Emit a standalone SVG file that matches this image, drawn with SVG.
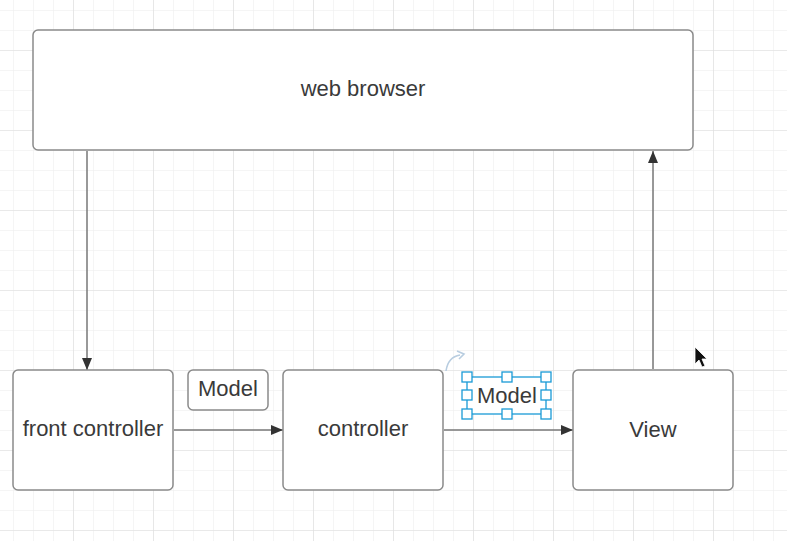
<svg xmlns="http://www.w3.org/2000/svg" width="787" height="541" viewBox="0 0 787 541">
<defs>
<pattern id="minor" x="13" y="10" width="20" height="20" patternUnits="userSpaceOnUse">
<path d="M0 0H20M0 0V20" fill="none" stroke="#ebebeb" stroke-width="1"/>
</pattern>
<pattern id="major" x="73" y="50" width="80" height="80" patternUnits="userSpaceOnUse">
<path d="M0 0H80M0 0V80" fill="none" stroke="#dedede" stroke-width="1.2"/>
</pattern>
<marker id="arr" viewBox="0 0 12 10" refX="12" refY="5" markerWidth="12" markerHeight="10" markerUnits="userSpaceOnUse" orient="auto">
<path d="M0 0L12 5L0 10Z" fill="#333"/>
</marker>
<style>
.box{fill:#fff;stroke:#8a8a8a;stroke-width:1.5}
.lbl{font-family:"Liberation Sans",Arial,sans-serif;font-size:22px;fill:#3a3a3a;text-anchor:middle;dominant-baseline:central}
.con{fill:none;stroke:#777;stroke-width:1.5;marker-end:url(#arr)}
.h{fill:#fff;stroke:#1a9ad6;stroke-width:1.3}
</style>
</defs>
<rect width="787" height="541" fill="#fff"/>
<rect width="787" height="541" fill="url(#minor)"/>
<rect width="787" height="541" fill="url(#major)"/>
<g id="connectors">
<path class="con" d="M87 151V370"/>
<path class="con" d="M174 430H283"/>
<path class="con" d="M444 430H573"/>
<path class="con" d="M653 369V151"/>
</g>
<g id="web-browser">
<rect class="box" x="33" y="30" width="660" height="120" rx="5"/>
<text class="lbl" x="363" y="88">web browser</text>
</g>
<g id="front-controller">
<rect class="box" x="13" y="370" width="160" height="120" rx="5"/>
<text class="lbl" x="93" y="428">front controller</text>
</g>
<g id="controller">
<rect class="box" x="283" y="370" width="160" height="120" rx="5"/>
<text class="lbl" x="363" y="428">controller</text>
</g>
<g id="view">
<rect class="box" x="573" y="370" width="160" height="120" rx="5"/>
<text class="lbl" x="653" y="429">View</text>
</g>
<g id="model-1">
<rect class="box" x="188" y="370" width="80" height="40" rx="5"/>
<text class="lbl" x="228" y="388">Model</text>
</g>
<g id="model-2">
<rect x="467" y="377" width="80" height="37" fill="#fff" stroke="none"/>
<text class="lbl" x="507" y="395">Model</text>
<rect x="467" y="377" width="79" height="37" fill="none" stroke="#1a9ad6" stroke-width="1.3"/>
<rect class="h" x="462" y="372" width="10" height="10"/>
<rect class="h" x="502" y="372" width="10" height="10"/>
<rect class="h" x="541" y="372" width="10" height="10"/>
<rect class="h" x="462" y="390" width="10" height="10"/>
<rect class="h" x="541" y="390" width="10" height="10"/>
<rect class="h" x="462" y="409" width="10" height="10"/>
<rect class="h" x="502" y="409" width="10" height="10"/>
<rect class="h" x="541" y="409" width="10" height="10"/>
<path d="M446 371Q448 357 460 355" fill="none" stroke="#b8cde0" stroke-width="1.6"/>
<path d="M457 351L464 354L459 359" fill="none" stroke="#b8cde0" stroke-width="1.6"/>
</g>
<path d="M695 347L695 364L699 360L702 367L705 366L702 359L707 359Z" fill="#111" stroke="#fff" stroke-width="0.8"/>
</svg>
